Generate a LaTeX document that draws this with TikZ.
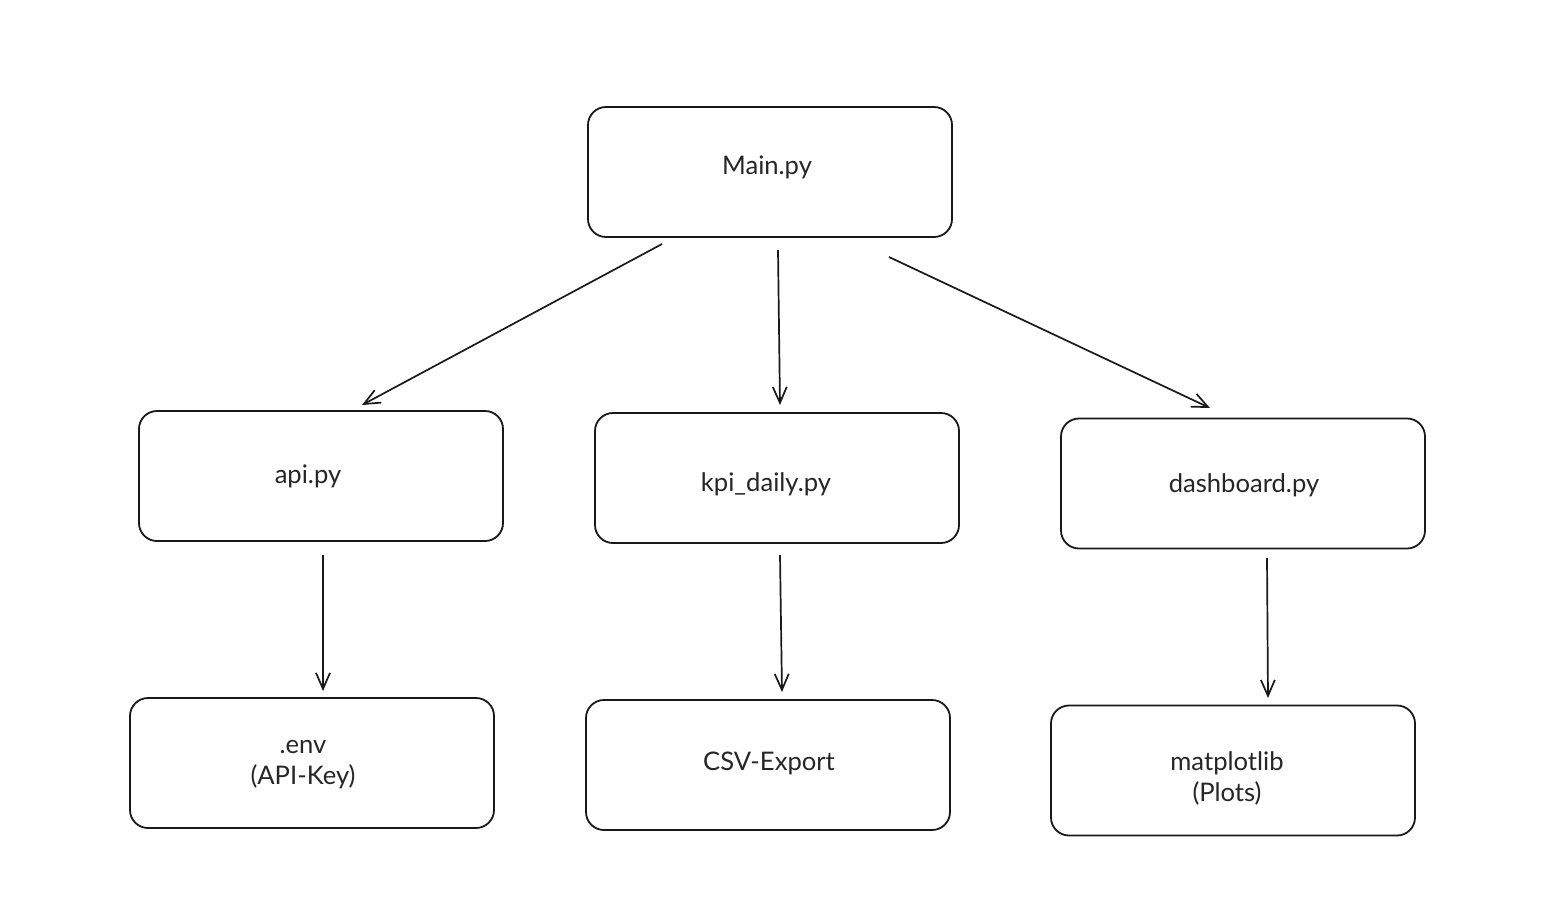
\documentclass[tikz,border=0pt]{standalone}
\usepackage{fontspec}
\setmainfont{Lato}
\usetikzlibrary{arrows.meta}
\begin{document}
\begin{tikzpicture}[x=0.5pt,y=-0.5pt,
  box/.style={draw=black!90,line width=0.9pt,rounded corners=9pt,minimum width=182pt,minimum height=65pt,inner sep=0pt},
  lbl/.style={text=black!85,font=\fontsize{12.8}{15.5}\selectfont,align=center},
  conn/.style={draw=black!90,line width=0.85pt,-{Straight Barb[length=8pt,width=7pt,line width=0.85pt]}}]
\useasboundingbox (0,0) rectangle (1548,896);
\fill[white] (0,0) rectangle (1548,896);
% boxes
\node[box] (main) at (770,172) {};
\node[lbl] (mainT) at (767,167) {Main.py};
\node[box] (api) at (321,476) {};
\node[lbl] (apiT) at (308,476) {api.py};
\node[box] (kpi) at (777,478) {};
\node[lbl] (kpiT) at (766,484) {kpi\_daily.py};
\node[box] (dash) at (1243,483.5) {};
\node[lbl] (dashT) at (1244,485) {dashboard.py};
\node[box] (env) at (312,763) {};
\node[lbl] (envT) at (303,765) {.env\\(API-Key)};
\node[box] (csv) at (768,765) {};
\node[lbl] (csvT) at (769,763) {CSV-Export};
\node[box] (mpl) at (1233,770.5) {};
\node[lbl] (mplT) at (1227,778) {matplotlib\\(Plots)};
% arrow end points
\coordinate (a1s) at (662,244); \coordinate (a1e) at (362,405);
\coordinate (a2s) at (778,250); \coordinate (a2e) at (780,405);
\coordinate (a3s) at (889,257); \coordinate (a3e) at (1210,408);
\coordinate (a4s) at (323,555); \coordinate (a4e) at (323,691);
\coordinate (a5s) at (780,555); \coordinate (a5e) at (782,692);
\coordinate (a6s) at (1267,558); \coordinate (a6e) at (1268,698);
\draw[conn] (a1s) -- (a1e);
\draw[conn] (a2s) -- (a2e);
\draw[conn] (a3s) -- (a3e);
\draw[conn] (a4s) -- (a4e);
\draw[conn] (a5s) -- (a5e);
\draw[conn] (a6s) -- (a6e);
\end{tikzpicture}
\end{document}
